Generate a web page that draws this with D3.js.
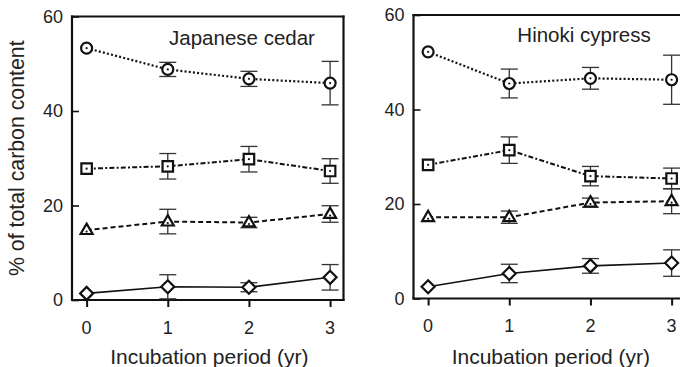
<!DOCTYPE html>
<html>
<head>
<meta charset="utf-8">
<script src="https://cdn.jsdelivr.net/npm/d3@7"></script>
<style>
  html, body { margin: 0; padding: 0; background: #fff; }
  svg { display: block; }
  text { font-family: "Liberation Sans", Arial, Helvetica, sans-serif; fill: #222; }
</style>
</head>
<body>
<svg id="chart" width="680" height="367"></svg>
<script>
// Incubation years and tick labels
const years = [0, 1, 2, 3];
const yTicks = [0, 20, 40, 60];

// Japanese cedar: fractions of total carbon (%) with error half-widths
const cedarCircle   = [53.3, 48.8, 46.8, 45.9];
const cedarCircleSE = [0, 1.5, 1.6, 4.6];
const cedarSquare   = [27.8, 28.3, 29.8, 27.3];
const cedarSquareSE = [0, 2.7, 2.7, 2.6];
const cedarTri      = [14.8, 16.6, 16.4, 18.2];
const cedarTriSE    = [0, 2.6, 1.1, 1.75];
const cedarDiam     = [1.4, 2.8, 2.7, 4.8];
const cedarDiamSE   = [0, 2.55, 0.95, 2.7];

// Hinoki cypress
const hinokiCircle   = [52.2, 45.5, 46.6, 46.3];
const hinokiCircleSE = [0, 3.05, 2.3, 5.2];
const hinokiSquare   = [28.3, 31.4, 25.9, 25.4];
const hinokiSquareSE = [0, 2.8, 2.05, 2.2];
const hinokiTri      = [17.2, 17.2, 20.3, 20.6];
const hinokiTriSE    = [0, 1.3, 0.95, 2.65];
const hinokiDiam     = [2.5, 5.3, 6.9, 7.5];
const hinokiDiamSE   = [0, 1.95, 1.55, 2.8];

const panelNames = ["Japanese cedar", "Hinoki cypress"];
const xTitle = "Incubation period (yr)";
const yTitle = "% of total carbon content";

const panels = [
  { name: panelNames[0], left: 72, top: 16.5, bottom: 300, fullBox: true, labelX: 242, labelY: 45,
    series: [
      { shape: "circle", v: cedarCircle, e: cedarCircleSE },
      { shape: "square", v: cedarSquare, e: cedarSquareSE },
      { shape: "triangle", v: cedarTri, e: cedarTriSE },
      { shape: "diamond", v: cedarDiam, e: cedarDiamSE }
    ] },
  { name: panelNames[1], left: 413.5, top: 15, bottom: 298.5, fullBox: false, labelX: 584, labelY: 42,
    series: [
      { shape: "circle", v: hinokiCircle, e: hinokiCircleSE },
      { shape: "square", v: hinokiSquare, e: hinokiSquareSE },
      { shape: "triangle", v: hinokiTri, e: hinokiTriSE },
      { shape: "diamond", v: hinokiDiam, e: hinokiDiamSE }
    ] }
];

const lineStyle = {
  circle:   { dash: "2,2.2", width: 2.2 },
  square:   { dash: "5,2.2,2,2.2", width: 2 },
  triangle: { dash: "5,3", width: 2 },
  diamond:  { dash: null, width: 1.6 }
};

const symbolPath = {
  circle: d3.symbol(d3.symbolCircle, 95)(),
  square: d3.symbol(d3.symbolSquare, 110)(),
  triangle: d3.symbol(d3.symbolTriangle, 62)(),
  diamond: "M0,-6.5L6.5,0L0,6.5L-6.5,0Z"
};

const svg = d3.select("#chart");
const plotWidth = 271.5;

panels.forEach(p => {
  const x = d3.scaleLinear().domain([-0.18, 3.165]).range([p.left, p.left + plotWidth]);
  const y = d3.scaleLinear().domain([0, 60]).range([p.bottom, p.top]);
  const g = svg.append("g");

  // frame
  const frame = g.append("g").attr("fill", "none").attr("stroke", "#111").attr("stroke-width", 2.2);
  frame.append("line").attr("x1", x.range()[0]).attr("x2", x.range()[0]).attr("y1", y(0) + 1).attr("y2", y(60) - 1);
  frame.append("line").attr("x1", x.range()[0] - 1).attr("x2", x.range()[1] + 1).attr("y1", y(0)).attr("y2", y(0));
  frame.append("line").attr("x1", x.range()[0] - 1).attr("x2", x.range()[1] + 1).attr("y1", y(60)).attr("y2", y(60));
  if (p.fullBox) {
    frame.append("line").attr("x1", x.range()[1]).attr("x2", x.range()[1]).attr("y1", y(0) + 1).attr("y2", y(60) - 1);
  }

  // y axis: inward ticks
  const yAxis = d3.axisRight(y).tickValues(yTicks).tickSize(7).tickFormat("");
  const ya = g.append("g").attr("transform", `translate(${x.range()[0]},0)`).call(yAxis);
  ya.select(".domain").remove();
  ya.selectAll(".tick line").attr("stroke", "#111").attr("stroke-width", 1.6);
  yTicks.forEach(t => {
    g.append("text").attr("x", x.range()[0] - 9).attr("y", y(t)).attr("dy", "0.36em")
      .attr("text-anchor", "end").attr("font-size", 18).text(t);
  });

  // x axis: outward ticks
  const xAxis = d3.axisBottom(x).tickValues(years).tickSize(7).tickFormat("");
  const xa = g.append("g").attr("transform", `translate(0,${y(0)})`).call(xAxis);
  xa.select(".domain").remove();
  xa.selectAll(".tick line").attr("stroke", "#111").attr("stroke-width", 2);
  years.forEach(t => {
    g.append("text").attr("x", x(t)).attr("y", y(0) + 33.5).attr("text-anchor", "middle")
      .attr("font-size", 18).text(t);
  });

  g.append("text").attr("x", (x(0) + x(3)) / 2 + 1).attr("y", 364).attr("text-anchor", "middle")
    .attr("font-size", 21).text(xTitle);

  g.append("text").attr("x", p.labelX).attr("y", p.labelY).attr("text-anchor", "middle")
    .attr("font-size", 20.5).text(p.name);

  // error bars
  p.series.forEach(s => {
    years.forEach((yr, i) => {
      if (!s.e[i]) return;
      const eb = g.append("g").attr("stroke", "#333").attr("stroke-width", 1.3);
      eb.append("line").attr("x1", x(yr)).attr("x2", x(yr)).attr("y1", y(s.v[i] - s.e[i])).attr("y2", y(s.v[i] + s.e[i]));
      [s.v[i] - s.e[i], s.v[i] + s.e[i]].forEach(val => {
        eb.append("line").attr("x1", x(yr) - 8.5).attr("x2", x(yr) + 8.5).attr("y1", y(val)).attr("y2", y(val));
      });
    });
  });

  // connecting lines
  p.series.forEach(s => {
    const st = lineStyle[s.shape];
    g.append("path")
      .datum(years.map((yr, i) => [yr, s.v[i]]))
      .attr("fill", "none").attr("stroke", "#111")
      .attr("stroke-width", st.width)
      .attr("stroke-dasharray", st.dash)
      .attr("d", d3.line().x(d => x(d[0])).y(d => y(d[1])));
  });

  // markers
  p.series.forEach(s => {
    years.forEach((yr, i) => {
      const cy = s.shape === "triangle" ? y(s.v[i]) + 0.5 : y(s.v[i]);
      g.append("path").attr("d", symbolPath[s.shape])
        .attr("transform", `translate(${x(yr)},${cy})`)
        .attr("fill", "#fff").attr("stroke", "#111").attr("stroke-width", 2.2);
      if (s.shape !== "diamond") {
        g.append("circle").attr("cx", x(yr)).attr("cy", y(s.v[i]) + (s.shape === "triangle" ? 1.5 : 0))
          .attr("r", 1.1).attr("fill", "#111");
      }
    });
  });
});

// shared y title
svg.append("text")
  .attr("transform", `translate(24,${(16.5 + 300) / 2}) rotate(-90)`)
  .attr("text-anchor", "middle").attr("font-size", 21.3).text(yTitle);
</script>
</body>
</html>
